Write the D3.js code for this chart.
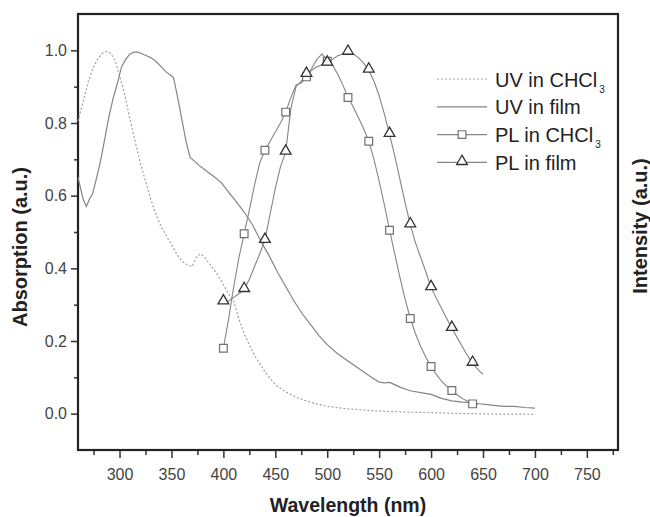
<!DOCTYPE html>
<html>
<head>
<meta charset="utf-8">
<script src="https://cdn.jsdelivr.net/npm/d3@7"></script>
<style>
  body { margin: 0; background: #fff; }
  svg text { font-family: "Liberation Sans", Arial, sans-serif; }
</style>
</head>
<body>
<div id="chart"></div>
<script>
// UV absorption, chloroform solution (dotted)
const uvSolWl = [260, 265, 270, 275, 280, 284, 288, 292, 296, 300, 305, 310, 315, 320, 325, 330, 335, 340, 345, 350,
  355, 360, 365, 370, 374, 378, 382, 386, 390, 395, 400, 405, 410, 415, 420, 425, 430, 440, 450, 460,
  470, 480, 490, 500, 520, 540, 560, 580, 600, 620, 640, 660, 680, 700];
const uvSolVal = [0.805, 0.86, 0.915, 0.955, 0.98, 0.993, 0.997, 0.99, 0.97, 0.93, 0.88, 0.81, 0.75, 0.69, 0.64, 0.59, 0.55, 0.515, 0.49, 0.465,
  0.44, 0.42, 0.41, 0.405, 0.43, 0.44, 0.43, 0.415, 0.40, 0.38, 0.355, 0.33, 0.31, 0.26, 0.22, 0.19, 0.16, 0.115, 0.08, 0.06,
  0.045, 0.035, 0.027, 0.02, 0.013, 0.009, 0.006, 0.004, 0.003, 0.001, 0.0, -0.001, -0.001, -0.002];

// UV absorption, film (solid)
const uvFilmWl = [260, 265, 268, 271, 274, 278, 282, 286, 290, 294, 298, 302, 306, 310, 314, 318, 322, 326, 330, 335,
  340, 345, 350, 352, 356, 360, 364, 368, 372, 378, 385, 392, 398, 405, 412, 420, 428, 436, 444, 452,
  460, 468, 476, 484, 492, 500, 510, 520, 530, 540, 550, 555, 560, 565, 570, 580, 590, 600, 610, 620,
  630, 640, 650, 660, 670, 680, 690, 700];
const uvFilmVal = [0.65, 0.59, 0.57, 0.59, 0.605, 0.65, 0.70, 0.76, 0.82, 0.87, 0.91, 0.955, 0.975, 0.99, 0.995, 0.995, 0.99, 0.985, 0.98, 0.97,
  0.955, 0.94, 0.93, 0.925, 0.87, 0.81, 0.75, 0.705, 0.695, 0.68, 0.665, 0.65, 0.636, 0.61, 0.585, 0.555, 0.52, 0.475, 0.435, 0.39,
  0.35, 0.31, 0.275, 0.245, 0.215, 0.19, 0.165, 0.145, 0.125, 0.105, 0.087, 0.085, 0.086, 0.08, 0.073, 0.063, 0.058, 0.053, 0.042, 0.035,
  0.032, 0.03, 0.026, 0.023, 0.02, 0.02, 0.017, 0.015];

// PL, chloroform solution (squares every 20 nm)
const plSolWl = [400, 405, 410, 415, 420, 425, 430, 435, 440, 445, 450, 455, 460, 465, 470, 475, 480, 485, 490, 495,
  500, 505, 510, 515, 520, 525, 530, 535, 540, 545, 550, 555, 560, 565, 570, 575, 580, 585, 590, 595,
  600, 605, 610, 615, 620, 625, 630, 635, 640, 645];
const plSolVal = [0.18, 0.26, 0.35, 0.43, 0.495, 0.56, 0.63, 0.69, 0.725, 0.75, 0.775, 0.80, 0.83, 0.87, 0.905, 0.91, 0.927, 0.95, 0.975, 0.99,
  0.97, 0.96, 0.935, 0.905, 0.87, 0.845, 0.815, 0.785, 0.75, 0.70, 0.64, 0.575, 0.505, 0.44, 0.375, 0.315, 0.262, 0.22, 0.185, 0.155,
  0.13, 0.108, 0.09, 0.075, 0.064, 0.052, 0.042, 0.034, 0.027, 0.024];

// PL, film (triangles every 20 nm)
const plFilmWl = [400, 405, 410, 415, 420, 425, 430, 435, 440, 445, 450, 455, 460, 465, 470, 475, 480, 485, 490, 495,
  500, 505, 510, 515, 520, 525, 530, 535, 540, 545, 550, 555, 560, 565, 570, 575, 580, 585, 590, 595,
  600, 605, 610, 615, 620, 625, 630, 635, 640, 645, 650];
const plFilmVal = [0.308, 0.31, 0.32, 0.33, 0.342, 0.37, 0.405, 0.44, 0.477, 0.55, 0.62, 0.68, 0.72, 0.84, 0.90, 0.915, 0.934, 0.945, 0.955, 0.96,
  0.965, 0.975, 0.985, 0.99, 0.995, 0.99, 0.98, 0.965, 0.946, 0.915, 0.875, 0.825, 0.769, 0.71, 0.645, 0.58, 0.52, 0.47, 0.43, 0.39,
  0.347, 0.318, 0.29, 0.262, 0.235, 0.21, 0.185, 0.16, 0.139, 0.122, 0.108];

const xMajor = [300, 350, 400, 450, 500, 550, 600, 650, 700, 750];
const xMinor = [275, 325, 375, 425, 475, 525, 575, 625, 675, 725, 775];
const yMajor = [0.0, 0.2, 0.4, 0.6, 0.8, 1.0];
const yMinor = [0.1, 0.3, 0.5, 0.7, 0.9];

const legendLabels = ["UV in CHCl", "UV in film", "PL in CHCl", "PL in film"];

const W = 650, H = 517;
const margin = { left: 78, right: 32, top: 14, bottom: 67 };
const width = W - margin.left - margin.right;
const height = H - margin.top - margin.bottom;

const svg = d3.select("#chart").append("svg")
  .attr("width", W).attr("height", H);

const x = d3.scaleLinear().domain([260, 780]).range([margin.left, margin.left + width]);
const y = d3.scaleLinear().domain([-0.1, 1.1]).range([margin.top + height, margin.top]);

const pts = (wl, v) => wl.map((w, i) => ({ w: w, v: v[i] }));
const line = d3.line().x(d => x(d.w)).y(d => y(d.v));

// axes
const xAxis = svg.append("g").attr("transform", "translate(0," + (margin.top + height) + ")")
  .call(d3.axisBottom(x).tickValues(xMajor).tickSize(8).tickPadding(11).tickFormat(d3.format("d")));
const xAxisMinor = svg.append("g").attr("transform", "translate(0," + (margin.top + height) + ")")
  .call(d3.axisBottom(x).tickValues(xMinor).tickSize(5).tickFormat(""));
const yAxis = svg.append("g").attr("transform", "translate(" + margin.left + ",0)")
  .call(d3.axisLeft(y).tickValues(yMajor).tickSize(7).tickPadding(4).tickFormat(d3.format(".1f")));
const yAxisMinor = svg.append("g").attr("transform", "translate(" + margin.left + ",0)")
  .call(d3.axisLeft(y).tickValues(yMinor).tickSize(4).tickFormat(""));

[xAxis, xAxisMinor, yAxis, yAxisMinor].forEach(g => {
  g.select(".domain").remove();
  g.selectAll("line").attr("stroke", "#333").attr("stroke-width", 1.5);
  g.selectAll("text").attr("fill", "#444").style("font-size", "16px");
});

// frame
svg.append("rect")
  .attr("x", margin.left).attr("y", margin.top)
  .attr("width", width).attr("height", height)
  .attr("fill", "none").attr("stroke", "#222").attr("stroke-width", 2.2);

// curves
svg.append("path").datum(pts(uvSolWl, uvSolVal))
  .attr("d", line).attr("fill", "none")
  .attr("stroke", "#a0a0a0").attr("stroke-width", 1.2).attr("stroke-dasharray", "2,2");
svg.append("path").datum(pts(uvFilmWl, uvFilmVal))
  .attr("d", line).attr("fill", "none")
  .attr("stroke", "#858585").attr("stroke-width", 1.2);
svg.append("path").datum(pts(plSolWl, plSolVal))
  .attr("d", line).attr("fill", "none")
  .attr("stroke", "#858585").attr("stroke-width", 1.1);
svg.append("path").datum(pts(plFilmWl, plFilmVal))
  .attr("d", line).attr("fill", "none")
  .attr("stroke", "#858585").attr("stroke-width", 1.1);

const square = d3.symbol().type(d3.symbolSquare).size(60);
const triangle = d3.symbol().type(d3.symbolTriangle).size(50);
const every20 = d => (d.w - 400) % 20 === 0;

svg.selectAll(".sq").data(pts(plSolWl, plSolVal).filter(every20))
  .enter().append("path").attr("class", "sq")
  .attr("d", square)
  .attr("transform", d => "translate(" + x(d.w) + "," + y(d.v) + ")")
  .attr("fill", "#fff").attr("stroke", "#707070").attr("stroke-width", 1.2);
svg.selectAll(".tri").data(pts(plFilmWl, plFilmVal).filter(every20).filter(d => d.w <= 640))
  .enter().append("path").attr("class", "tri")
  .attr("d", triangle)
  .attr("transform", d => "translate(" + x(d.w) + "," + (y(d.v) - 1) + ")")
  .attr("fill", "#fff").attr("stroke", "#333").attr("stroke-width", 1.3);

// legend
const legend = svg.append("g").attr("transform", "translate(437,79)");
legendLabels.forEach((lab, i) => {
  const g = legend.append("g").attr("transform", "translate(0," + (i * 27.8) + ")");
  g.append("line").attr("x1", 0).attr("x2", 50).attr("y1", 0).attr("y2", 0)
    .attr("stroke", i === 0 ? "#a0a0a0" : "#858585").attr("stroke-width", 1.2)
    .attr("stroke-dasharray", i === 0 ? "2,2" : null);
  if (i === 2) g.append("path").attr("d", square).attr("transform", "translate(25,0)")
    .attr("fill", "#fff").attr("stroke", "#707070").attr("stroke-width", 1.2);
  if (i === 3) g.append("path").attr("d", triangle).attr("transform", "translate(25,-1)")
    .attr("fill", "#fff").attr("stroke", "#333").attr("stroke-width", 1.3);
  const t = g.append("text").attr("x", 58).attr("y", 7.5)
    .style("font-size", "20px").attr("fill", "#222").text(lab);
  if (lab.endsWith("CHCl")) t.append("tspan").attr("dx", 2).attr("dy", 6)
    .style("font-size", "10px").text("3");
});

// axis titles
svg.append("text")
  .attr("transform", "translate(27," + (margin.top + height / 2 + 15) + ") rotate(-90)")
  .attr("text-anchor", "middle").style("font-size", "20px").style("font-weight", "bold")
  .attr("fill", "#222").text("Absorption (a.u.)");
svg.append("text")
  .attr("x", 348).attr("y", 512)
  .attr("text-anchor", "middle").style("font-size", "19.5px").style("font-weight", "bold")
  .attr("fill", "#222").text("Wavelength (nm)");
svg.append("text")
  .attr("transform", "translate(647," + (margin.top + height / 2 - 6) + ") rotate(-90)")
  .attr("text-anchor", "middle").style("font-size", "20px").style("font-weight", "bold")
  .attr("fill", "#222").text("Intensity (a.u.)");
</script>
</body>
</html>
